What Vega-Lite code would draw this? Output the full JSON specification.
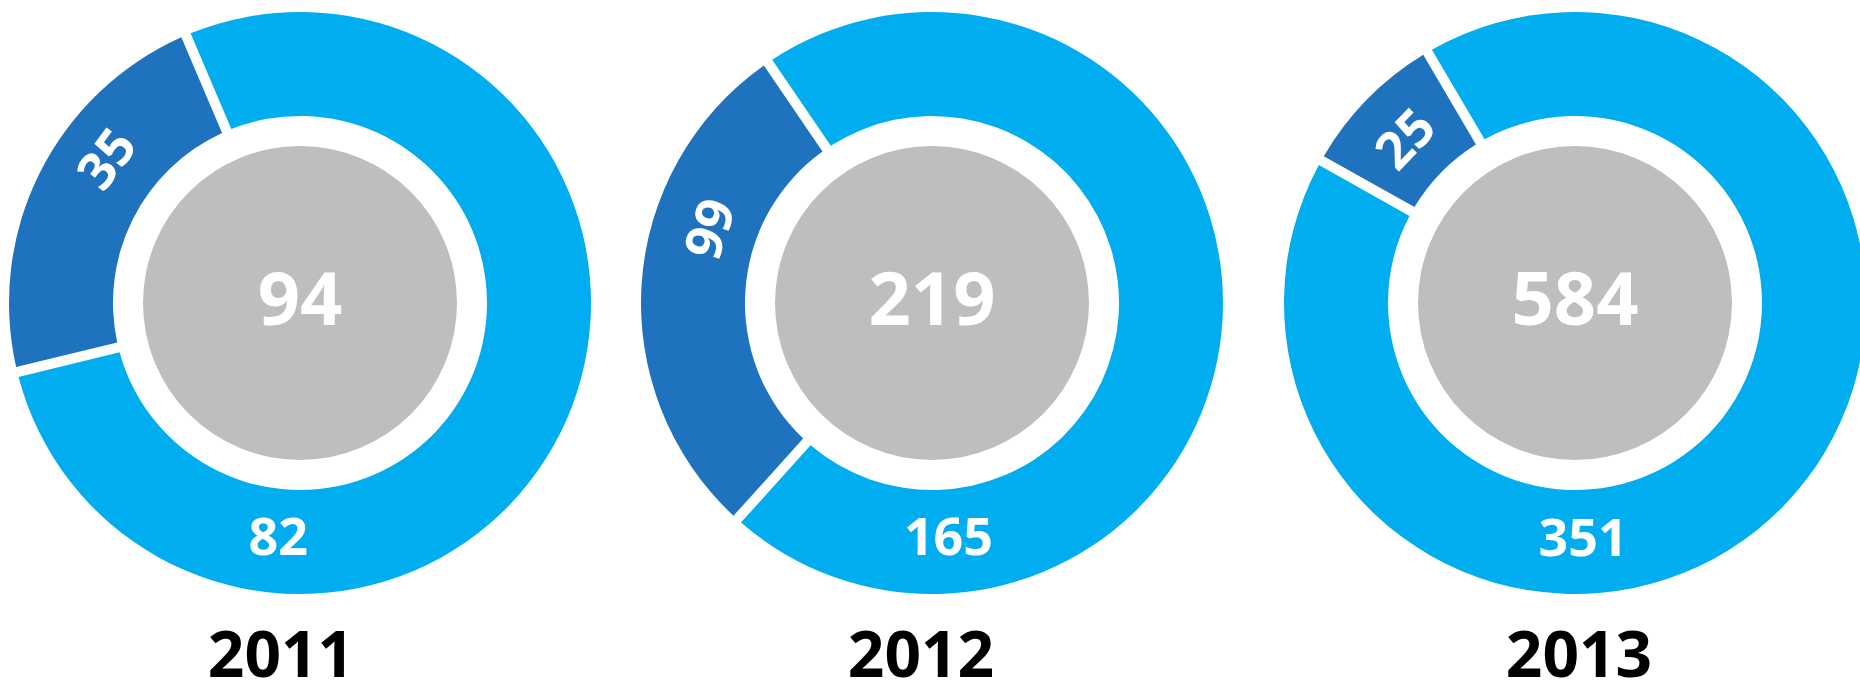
{
  "$schema": "https://vega.github.io/schema/vega-lite/v6.json",
  "padding": 0,
  "background": "white",
  "spacing": 0,
  "datasets": {
    "segments": [
      {"year": "2011", "segment": "A", "label": "35", "share": 0.224},
      {"year": "2011", "segment": "B", "label": "82", "share": 0.776},
      {"year": "2012", "segment": "A", "label": "99", "share": 0.288},
      {"year": "2012", "segment": "B", "label": "165", "share": 0.712},
      {"year": "2013", "segment": "A", "label": "25", "share": 0.084},
      {"year": "2013", "segment": "B", "label": "351", "share": 0.916}
    ],
    "totals": [
      {"year": "2011", "total": "94"},
      {"year": "2012", "total": "219"},
      {"year": "2013", "total": "584"}
    ]
  },
  "hconcat": [
    {
      "width": 600, "height": 606,
      "title": {"text": "2011", "orient": "bottom", "fontSize": 64, "font": "Open Sans", "fontWeight": "bold", "color": "#000000", "offset": 20, "dx": -19},
      "layer": [
        {"data": {"name": "segments"}, "transform": [{"filter": "datum.year === '2011'"}],
         "mark": {"type": "arc", "outerRadius": 291, "innerRadius": 187, "padAngle": 0.029},
         "encoding": {
           "theta": {"field": "share", "type": "quantitative", "stack": true, "scale": {"range": [4.473, 10.756]}},
           "color": {"field": "segment", "type": "nominal", "scale": {"domain": ["A", "B"], "range": ["#1F73BE", "#00ADEF"]}, "legend": null},
           "order": {"field": "segment"}
         }},
        {"data": {"name": "totals"}, "transform": [{"filter": "datum.year === '2011'"}],
         "mark": {"type": "arc", "outerRadius": 157, "innerRadius": 0, "theta": 6.2832, "fill": "#BCBEC0"}, "encoding": {}},
        {"data": {"name": "totals"}, "transform": [{"filter": "datum.year === '2011'"}],
         "mark": {"type": "text", "font": "Open Sans", "fontWeight": "bold", "fontSize": 74, "color": "white", "align": "center", "baseline": "middle"},
         "encoding": {"text": {"field": "total"}}},
        {"data": {"name": "segments"}, "transform": [{"filter": "datum.year === '2011' && datum.segment === 'A'"}],
         "mark": {"type": "text", "theta": 5.353, "radius": 239, "angle": -53, "font": "Open Sans", "fontWeight": "bold", "fontSize": 52, "color": "white", "align": "center", "baseline": "middle"},
         "encoding": {"text": {"field": "label"}}},
        {"data": {"name": "segments"}, "transform": [{"filter": "datum.year === '2011' && datum.segment === 'B'"}],
         "mark": {"type": "text", "theta": 3.234, "radius": 237, "font": "Open Sans", "fontWeight": "bold", "fontSize": 52, "color": "white", "align": "center", "baseline": "middle"},
         "encoding": {"text": {"field": "label"}}}
      ]
    },
    {
      "width": 664, "height": 606,
      "title": {"text": "2012", "orient": "bottom", "fontSize": 64, "font": "Open Sans", "fontWeight": "bold", "color": "#000000", "offset": 20, "dx": -11},
      "layer": [
        {"data": {"name": "segments"}, "transform": [{"filter": "datum.year === '2012'"}],
         "mark": {"type": "arc", "outerRadius": 291, "innerRadius": 187, "padAngle": 0.029},
         "encoding": {
           "theta": {"field": "share", "type": "quantitative", "stack": true, "scale": {"range": [3.875, 10.158]}},
           "color": {"field": "segment", "type": "nominal", "scale": {"domain": ["A", "B"], "range": ["#1F73BE", "#00ADEF"]}, "legend": null},
           "order": {"field": "segment"}
         }},
        {"data": {"name": "totals"}, "transform": [{"filter": "datum.year === '2012'"}],
         "mark": {"type": "arc", "outerRadius": 157, "innerRadius": 0, "theta": 6.2832, "fill": "#BCBEC0"}, "encoding": {}},
        {"data": {"name": "totals"}, "transform": [{"filter": "datum.year === '2012'"}],
         "mark": {"type": "text", "font": "Open Sans", "fontWeight": "bold", "fontSize": 74, "color": "white", "align": "center", "baseline": "middle"},
         "encoding": {"text": {"field": "total"}}},
        {"data": {"name": "segments"}, "transform": [{"filter": "datum.year === '2012' && datum.segment === 'A'"}],
         "mark": {"type": "text", "theta": 5.035, "radius": 232, "angle": -71, "font": "Open Sans", "fontWeight": "bold", "fontSize": 52, "color": "white", "align": "center", "baseline": "middle"},
         "encoding": {"text": {"field": "label"}}},
        {"data": {"name": "segments"}, "transform": [{"filter": "datum.year === '2012' && datum.segment === 'B'"}],
         "mark": {"type": "text", "theta": 3.072, "radius": 237, "font": "Open Sans", "fontWeight": "bold", "fontSize": 52, "color": "white", "align": "center", "baseline": "middle"},
         "encoding": {"text": {"field": "label"}}}
      ]
    },
    {
      "width": 622, "height": 606,
      "title": {"text": "2013", "orient": "bottom", "fontSize": 64, "font": "Open Sans", "fontWeight": "bold", "color": "#000000", "offset": 20, "dx": 4},
      "layer": [
        {"data": {"name": "segments"}, "transform": [{"filter": "datum.year === '2013'"}],
         "mark": {"type": "arc", "outerRadius": 291, "innerRadius": 187, "padAngle": 0.029},
         "encoding": {
           "theta": {"field": "share", "type": "quantitative", "stack": true, "scale": {"range": [5.224, 11.507]}},
           "color": {"field": "segment", "type": "nominal", "scale": {"domain": ["A", "B"], "range": ["#1F73BE", "#00ADEF"]}, "legend": null},
           "order": {"field": "segment"}
         }},
        {"data": {"name": "totals"}, "transform": [{"filter": "datum.year === '2013'"}],
         "mark": {"type": "arc", "outerRadius": 157, "innerRadius": 0, "theta": 6.2832, "fill": "#BCBEC0"}, "encoding": {}},
        {"data": {"name": "totals"}, "transform": [{"filter": "datum.year === '2013'"}],
         "mark": {"type": "text", "font": "Open Sans", "fontWeight": "bold", "fontSize": 74, "color": "white", "align": "center", "baseline": "middle"},
         "encoding": {"text": {"field": "total"}}},
        {"data": {"name": "segments"}, "transform": [{"filter": "datum.year === '2013' && datum.segment === 'A'"}],
         "mark": {"type": "text", "theta": 5.480, "radius": 234, "angle": -46, "font": "Open Sans", "fontWeight": "bold", "fontSize": 52, "color": "white", "align": "center", "baseline": "middle"},
         "encoding": {"text": {"field": "label"}}},
        {"data": {"name": "segments"}, "transform": [{"filter": "datum.year === '2013' && datum.segment === 'B'"}],
         "mark": {"type": "text", "theta": 3.107, "radius": 237, "font": "Open Sans", "fontWeight": "bold", "fontSize": 52, "color": "white", "align": "center", "baseline": "middle"},
         "encoding": {"text": {"field": "label"}}}
      ]
    }
  ],
  "config": {"view": {"stroke": null}, "concat": {"spacing": 0}}
}
